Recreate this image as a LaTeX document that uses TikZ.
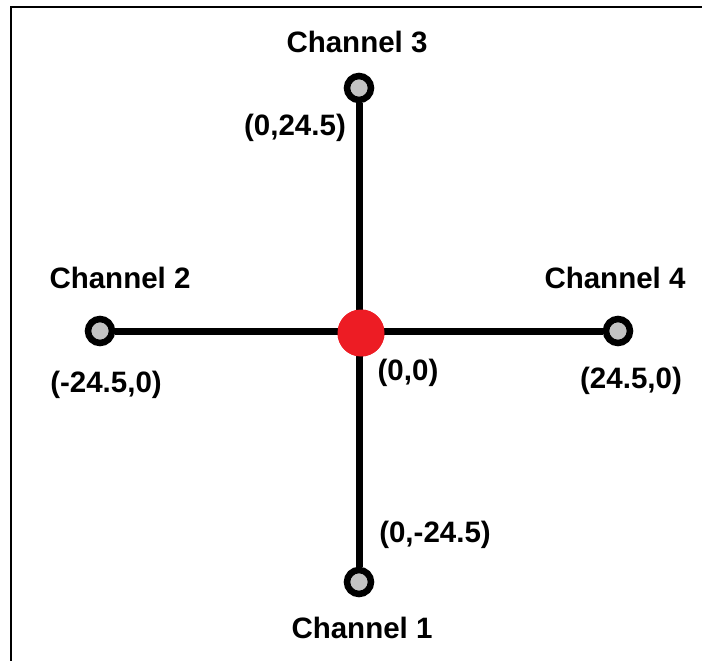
\documentclass[tikz,border=0pt]{standalone}
\usepackage{fontspec}
\setmainfont{Liberation Sans}
\begin{document}
\begin{tikzpicture}[x=1pt,y=-1pt,
  term/.style={circle,draw=black,line width=6.5pt,fill=termgray,minimum size=24pt,inner sep=0pt},
  hub/.style={circle,fill=hubred,minimum size=47pt,inner sep=0pt},
  lbl/.style={font=\fontsize{29.5}{32}\selectfont\bfseries,inner sep=0pt,anchor=center},
  wire/.style={line width=7pt}]
\definecolor{termgray}{HTML}{C3C3C3}
\definecolor{hubred}{HTML}{ED1C24}
\useasboundingbox (0,0) rectangle (702,661);
\draw[line width=2.2pt] (11,661) coordinate (fl) -- (11,7) coordinate (fc) -- (702,7) coordinate (fr);
\node[term] (t3) at (359,88) {};
\node[term] (t2) at (100,331) {};
\node[term] (t4) at (618,331) {};
\node[term] (t1) at (359,582) {};
\node[hub] (c) at (361,333) {};
\draw[wire] (t3) -- (t1);
\draw[wire] (t2) -- (t4);
\node[hub] at (c) {};
\node[lbl] (n3) at (357,42) {Channel 3};
\node[lbl] (p3) at (295,128) {(0,24.5)};
\node[lbl] (n2) at (120,278) {Channel 2};
\node[lbl] (n4) at (615,278) {Channel 4};
\node[lbl] (p2) at (106,385) {(-24.5,0)};
\node[lbl] (p4) at (631,381) {(24.5,0)};
\node[lbl] (p0) at (408,373) {(0,0)};
\node[lbl] (p1) at (435,535) {(0,-24.5)};
\node[lbl] (n1) at (362,628) {Channel 1};
\end{tikzpicture}
\end{document}
